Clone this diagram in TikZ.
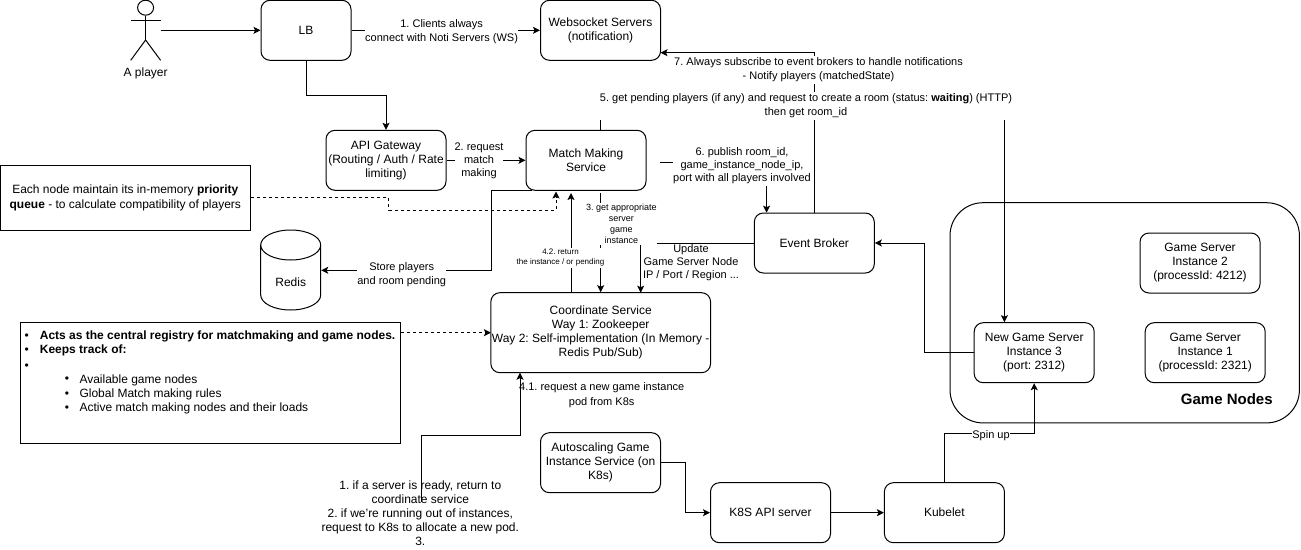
\documentclass[tikz,border=0pt]{standalone}
\usepackage{fontspec}
\setmainfont{Liberation Sans}
\frenchspacing
\usetikzlibrary{arrows.meta,shapes.geometric}

\tikzset{
    boxnode/.style={draw,rounded corners=9pt,align=center,inner sep=0pt,minimum width=120pt,minimum height=60pt,font=\fontsize{12}{14}\selectfont},
    notenode/.style={draw,align=center,inner sep=0pt,font=\fontsize{12}{14.5}\selectfont},
    edgelabel/.style={fill=white,align=center,inner xsep=0pt,inner ysep=1.5pt,font=\fontsize{11}{13}\selectfont},
    smalllabel/.style={edgelabel,font=\fontsize{9}{11}\selectfont},
    tinylabel/.style={edgelabel,font=\fontsize{8}{10}\selectfont},
    plainlabel/.style={align=center,inner sep=0pt,font=\fontsize{12}{14}\selectfont},
    listline/.style={anchor=west,inner sep=0pt,font=\fontsize{12}{14}\selectfont},
}

\begin{document}
\begin{tikzpicture}[x=1pt,y=-1pt,line width=1pt,>={Stealth[length=7pt,width=7pt,inset=1.5pt]}]
    \useasboundingbox (0,0) rectangle (1301,549);

    \begin{scope}[every node/.style={boxnode}]
        \node (lb) at (306,30.3) [minimum width=90pt] {LB};
        \node (wsock) at (600.5,30.3) {Websocket Servers\\(notification)};
        \node (gateway) at (386,160.3) {API Gateway\\(Routing / Auth / Rate\\limiting)};
        \node (matchmaking) at (586,160.3) {Match Making\\Service};
        \node (broker) at (814.3,243) {Event Broker};
        \node (coordinate) at (600.7,332.7) [minimum width=219.7pt,minimum height=80pt] {Coordinate Service\\Way 1: Zookeeper\\Way 2: Self-implementation (In Memory -\\Redis Pub/Sub)};
        \node (autoscaling) at (600.5,462.7) {Autoscaling Game\\Instance Service (on\\K8s)};
        \node (k8sapi) at (770.5,512.7) {K8S API server};
        \node (kubelet) at (944.4,512.7) {Kubelet};
        \node (gamenodes) at (1124.7,312.8) [minimum width=349.4pt,minimum height=220.2pt,rounded corners=33pt] {};
        \node (server2) at (1200,263) {Game Server\\Instance 2\\(processId: 4212)};
        \node (server3) at (1034.2,352.7) {New Game Server\\Instance 3\\(port: 2312)};
        \node (server1) at (1205.2,352.7) {Game Server\\Instance 1\\(processId: 2321)};
    \end{scope}

    \node (prionote) at (125.3,197.7) [notenode,minimum width=250.6pt,minimum height=65pt] {Each node maintain its in-memory \textbf{priority}\\\textbf{queue} - to calculate compatibility of players};
    \node (registry) at (210.4,382.9) [notenode,minimum width=380.8pt,minimum height=120.3pt] {};

    \node (redis) at (290.7,270.3) [minimum width=60pt,minimum height=80pt,inner sep=0pt] {};
    \node (redisname) at (290.7,282) [plainlabel] {Redis};
    \draw (260.7,245) arc[x radius=30pt,y radius=15pt,start angle=180,end angle=-180] -- (260.7,295) arc[x radius=30pt,y radius=15pt,start angle=180,end angle=360] -- (320.7,245);

    \node (playerhead) at (145.6,7.7) [draw,ellipse,minimum width=16pt,minimum height=15pt,inner sep=0pt] {};
    \node (playername) at (145.6,73.7) [plainlabel] {A player};
    \draw (playerhead.south) -- (145.6,40);
    \draw (130.7,20.3) -- (160.6,20.3);
    \draw (130.7,60.3) -- (145.6,40) -- (160.6,60.3);

    \foreach \i/\ypos/\linetext in {1/336.7/{\textbf{Acts as the central registry for matchmaking and game nodes.}},2/350.7/{\textbf{Keeps track of:}},3/366.7/{}} {
        \node (bullet\i) at (24,\ypos) [listline] {\textbullet};
        \node (line\i) at (39.4,\ypos) [listline] {\linetext};
    }
    \foreach \i/\ypos/\linetext in {4/380/{Available game nodes},5/394.6/{Global Match making rules},6/408.7/{Active match making nodes and their loads}} {
        \node (bullet\i) at (64.3,\ypos) [listline] {\textbullet};
        \node (line\i) at (79,\ypos) [listline] {\linetext};
    }
    \node (gametitle) at (1226.8,399) [inner sep=0pt,font=\fontsize{15}{17}\selectfont\bfseries] {Game Nodes};

    \coordinate (playerhand) at (160.6,30.3);
    \coordinate (dashend) at (556,191.5);
    \coordinate (storestart) at (532,190.3);
    \coordinate (pickstart) at (600.7,193);
    \coordinate (returnend) at (571,193);
    \coordinate (publishstart) at (660,162.7);
    \coordinate (podstart) at (421,502);

    \begin{scope}
        \path [->] (playerhand) edge (lb);
        \path [->] (lb) edge (wsock);
        \path [->] (gateway) edge (matchmaking);
        \path [->] (k8sapi) edge (kubelet);
        \draw [->] (lb.south) -- (306,95) -| (gateway.north);
        \draw [->,dashed] (prionote.east) -| (388.8,210) -| (dashend);
        \draw [->] (storestart) -| (491,270.3) -- (redis.east);
        \draw [->] (coordinate.north -| returnend) -- (returnend);
        \draw [->] (pickstart) -- (coordinate.north -| pickstart);
        \draw [->] (matchmaking.north -| pickstart) -- (600.7,106) -| (server3.north -| 1004.4,0);
        \draw [->] (broker.north) -- (814.3,52.7) -- (660.5,52.7);
        \draw [->] (publishstart) -| (766.6,212.7);
        \draw [->] (broker.west) -| (640.7,292.7);
        \draw [->] (server3.west) -| (924.3,243) -- (broker.east);
        \draw [->,dashed] (400.8,332.7) -- (490.9,332.7);
        \draw [->] (podstart) |- (520,435) -- (520,372.7);
        \draw [->] (autoscaling.east) -| (685.3,512.7) -- (k8sapi.west);
        \draw [->] (kubelet.north) |- (1034.2,433) -- (server3.south);
    \end{scope}

    \begin{scope}[every node/.style={edgelabel}]
        \node (clientlabel) at (441.6,31.3) [font=\fontsize{11}{14}\selectfont] {1. Clients always\\connect with Noti Servers (WS)};
        \node (requestlabel) at (479,161) {2. request\\match\\making};
        \node (storelabel) at (401.7,275) [font=\fontsize{11}{14}\selectfont] {Store players\\and room pending};
        \node (picklabel) at (621.3,224) [smalllabel] {3. get appropriate\\server\\game\\instance};
        \node (returnlabel) at (560.5,258) [tinylabel] {4.2. return\\the instance / or pending};
        \node (updatelabel) at (691,263) [inner ysep=0pt] {Update\\Game Server Node\\IP / Port / Region ...};
        \node (subscribelabel) at (818.5,70) [font=\fontsize{11}{14}\selectfont] {7. Always subscribe to event brokers to handle notifications\\- Notify players (matchedState)};
        \node (roomlabel) at (806,106) [font=\fontsize{11}{14}\selectfont] {5. get pending players (if any) and request to create a room (status: \textbf{waiting}) (HTTP)\\then get room\_id};
        \node (publishlabel) at (742,166) {6. publish room\_id,\\game\_instance\_node\_ip,\\port with all players involved};
        \node (spinlabel) at (991,435.7) [inner ysep=0pt] {Spin up};
    \end{scope}

    \node (podlabel) at (601.7,395.3) [align=center,inner sep=0pt,font=\fontsize{11}{14.5}\selectfont] {4.1. request a new game instance\\pod from K8s};
    \node (readylabel) at (420.3,513.3) [plainlabel] {1. if a server is ready, return to\\coordinate service\\2. if we're running out of instances,\\request to K8s to allocate a new pod.\\3.};
\end{tikzpicture}
\end{document}
